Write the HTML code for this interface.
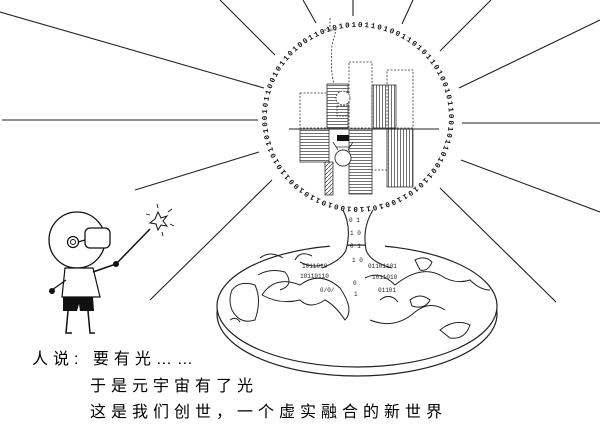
<!DOCTYPE html>
<html><head><meta charset="utf-8"><style>
html,body{margin:0;padding:0;background:#fff;}
.t{position:absolute;font-family:"Liberation Sans","Noto Sans CJK SC",sans-serif;font-size:16px;color:#000;letter-spacing:5px;white-space:nowrap;font-weight:400}
</style></head><body>
<div style="position:relative;width:600px;height:446px;overflow:hidden;">
<svg width="600" height="446" viewBox="0 0 600 446" xmlns="http://www.w3.org/2000/svg" style="position:absolute;left:0;top:0">
<defs>
<pattern id="hh" width="4" height="3" patternUnits="userSpaceOnUse"><line x1="0" y1="1.5" x2="4" y2="1.5" stroke="#333" stroke-width="0.7"/></pattern>
<pattern id="vv" width="3" height="4" patternUnits="userSpaceOnUse"><line x1="1.5" y1="0" x2="1.5" y2="4" stroke="#333" stroke-width="0.7"/></pattern>
<pattern id="dd" width="4" height="4" patternUnits="userSpaceOnUse"><line x1="0" y1="4" x2="4" y2="0" stroke="#333" stroke-width="0.7"/></pattern>
<path id="circ" d="M358,27 A91,90 0 1,1 357.9,27"/>
</defs>
<g stroke="#222" stroke-width="1.1" fill="none">
<line x1="0" y1="12" x2="264" y2="88"/>
<line x1="220" y1="0" x2="275" y2="55"/>
<line x1="303" y1="0" x2="316" y2="23"/>
<line x1="353" y1="0" x2="353" y2="16"/>
<line x1="413" y1="0" x2="402" y2="24"/>
<line x1="491" y1="0" x2="440" y2="51"/>
<line x1="600" y1="20" x2="459" y2="88"/>
<line x1="462" y1="123" x2="600" y2="123"/>
<line x1="461" y1="160" x2="600" y2="212"/>
<line x1="440" y1="188" x2="556" y2="302"/>
<line x1="2" y1="120" x2="258" y2="120"/>
<line x1="135" y1="190" x2="259" y2="152"/>
<line x1="272" y1="180" x2="150" y2="300"/>
</g>
<text font-family="Liberation Mono,monospace" font-size="7.5" font-weight="bold" fill="#111" letter-spacing="1.8"><textPath href="#circ">01101001101011010010110010110100110101100101101001011010011010110100101100101101001101010110</textPath></text>
<!-- buildings -->
<g stroke="#333" stroke-width="0.8">
<path d="M330,18 L330,30 M324,30 L336,30 L332,45 Q330,70 334,84" fill="none" stroke-dasharray="2,1.5"/>
<rect x="300" y="93" width="27" height="35" fill="none" stroke-dasharray="2,1.5"/>
<rect x="327" y="84" width="21" height="44" fill="url(#hh)"/>
<rect x="349" y="62" width="23" height="66" fill="none" stroke-dasharray="2,1.5"/>
<rect x="387" y="70" width="26" height="58" fill="none" stroke-dasharray="2,1.5"/>
<rect x="372" y="85" width="24" height="43" fill="url(#vv)"/>
<rect x="300" y="129" width="29" height="33" fill="url(#hh)"/>
<rect x="325" y="162" width="8" height="33" fill="url(#dd)"/>
<rect x="349" y="129" width="23" height="65" fill="url(#hh)"/>
<rect x="372" y="129" width="15" height="41" fill="none" stroke-dasharray="2,1.5"/>
<rect x="387" y="129" width="26" height="58" fill="url(#vv)"/>
</g>
<line x1="289" y1="129" x2="439" y2="129" stroke="#222" stroke-width="1"/>
<circle cx="343" cy="98" r="7" fill="#fff" stroke="#333" stroke-width="0.8" stroke-dasharray="2,1"/>
<path d="M337,106 L349,106 L349,116 L337,116Z" fill="none" stroke="#333" stroke-width="0.7" stroke-dasharray="2,1"/>
<rect x="337" y="135" width="12" height="6" fill="#111"/>
<circle cx="343" cy="158" r="8" fill="#fff" stroke="#333" stroke-width="0.9"/>
<path d="M336,147 L350,147 M333,142 L338,150 M353,142 L348,150" stroke="#333" stroke-width="0.8" fill="none"/>
<!-- earth disc -->
<ellipse cx="357" cy="314" rx="140" ry="62" fill="#fff" stroke="#222" stroke-width="1.2"/>
<ellipse cx="357" cy="306" rx="140" ry="61" fill="#fff" stroke="#222" stroke-width="1.2"/>
<g stroke="#222" stroke-width="1" fill="none">
<path d="M232,290 Q240,280 255,285 Q262,300 255,320 Q240,325 232,310 Q228,300 232,290Z"/>
<path d="M262,295 Q275,275 300,285 Q320,270 340,288 Q355,310 345,320 Q335,305 325,300 Q310,310 300,300 Q280,305 262,295"/>
<path d="M300,262 Q315,270 330,262 M258,275 Q270,268 285,272 Q295,285 280,290"/>
<path d="M365,278 Q380,270 395,285 Q420,265 440,275 Q455,285 470,280 Q480,290 490,290"/>
<path d="M370,320 Q395,330 415,312 Q430,300 445,310 M440,330 Q455,318 470,325 Q465,340 450,338Z"/>
<path d="M410,300 Q420,292 430,300 Q425,310 412,306Z M380,300 Q390,292 398,302"/>
<path d="M295,260 Q300,250 312,256 M260,258 Q270,250 283,258"/>
<path d="M415,260 Q425,255 432,262 Q428,272 420,270Z M230,320 Q236,316 240,322"/>
</g>
<!-- trunk -->
<path d="M343,210 Q352,228 346,250 Q342,260 322,268 M373,210 Q362,228 366,250 Q370,262 392,268" fill="#fff" stroke="#222" stroke-width="1.1"/>
<g font-family="Liberation Mono,monospace" font-size="6" fill="#222">
<text x="349" y="222">0 1</text><text x="350" y="235">1 0</text><text x="350" y="248">0 1</text>
<text x="302" y="268">1011010</text><text x="300" y="278">10110110</text>
<text x="368" y="268">01101101</text><text x="372" y="279">1011010</text>
<text x="320" y="292">0/0/</text><text x="378" y="292">01101</text>
<text x="352" y="262">1 0</text><text x="353" y="285">0</text><text x="354" y="296">1</text>
</g>
<!-- person -->
<circle cx="77" cy="240" r="28" fill="#fff" stroke="#111" stroke-width="1.3"/>
<rect x="85" y="228" width="25" height="20" rx="5" fill="#fff" stroke="#111" stroke-width="1.3"/>
<circle cx="73" cy="242" r="5.5" fill="#fff" stroke="#111" stroke-width="1.2"/>
<circle cx="73" cy="242" r="2.5" fill="none" stroke="#111"/>
<line x1="78" y1="242" x2="85" y2="240" stroke="#111" stroke-width="1.2"/>
<path d="M65,268 L93,268 L100,297 L62,297Z" fill="#fff" stroke="#111" stroke-width="1.2"/>
<path d="M63,297 L93,297 L94,311 L80,311 L79,304 L77,311 L63,311Z" fill="#111"/>
<path d="M68,311 L66,333 L72,333 M88,311 L90,333 L95,333" stroke="#111" stroke-width="1.5" fill="none"/>
<path d="M66,280 L52,290" stroke="#111" stroke-width="1.2"/><circle cx="52" cy="291" r="3" fill="#111"/>
<path d="M93,272 L116,264 L150,229" stroke="#111" stroke-width="1.5" fill="none"/><circle cx="116" cy="264" r="3" fill="#111"/>
<path d="M158,212 L161,218 L167,216 L163,221 L167,226 L161,225 L158,230 L156,224 L150,223 L155,219Z" fill="#fff" stroke="#111"/>
<g stroke="#111" stroke-width="0.9"><line x1="158" y1="208" x2="157" y2="204"/><line x1="168" y1="212" x2="172" y2="209"/><line x1="170" y1="224" x2="174" y2="226"/><line x1="150" y1="215" x2="146" y2="214"/><line x1="162" y1="232" x2="163" y2="236"/></g>
</svg>
<div class="t" style="left:32px;top:345px">人说:&nbsp;要有光……</div>
<div class="t" style="left:90px;top:372px">于是元宇宙有了光</div>
<div class="t" style="left:90px;top:398px">这是我们创世，一个虚实融合的新世界</div>
</div>
</body></html>
